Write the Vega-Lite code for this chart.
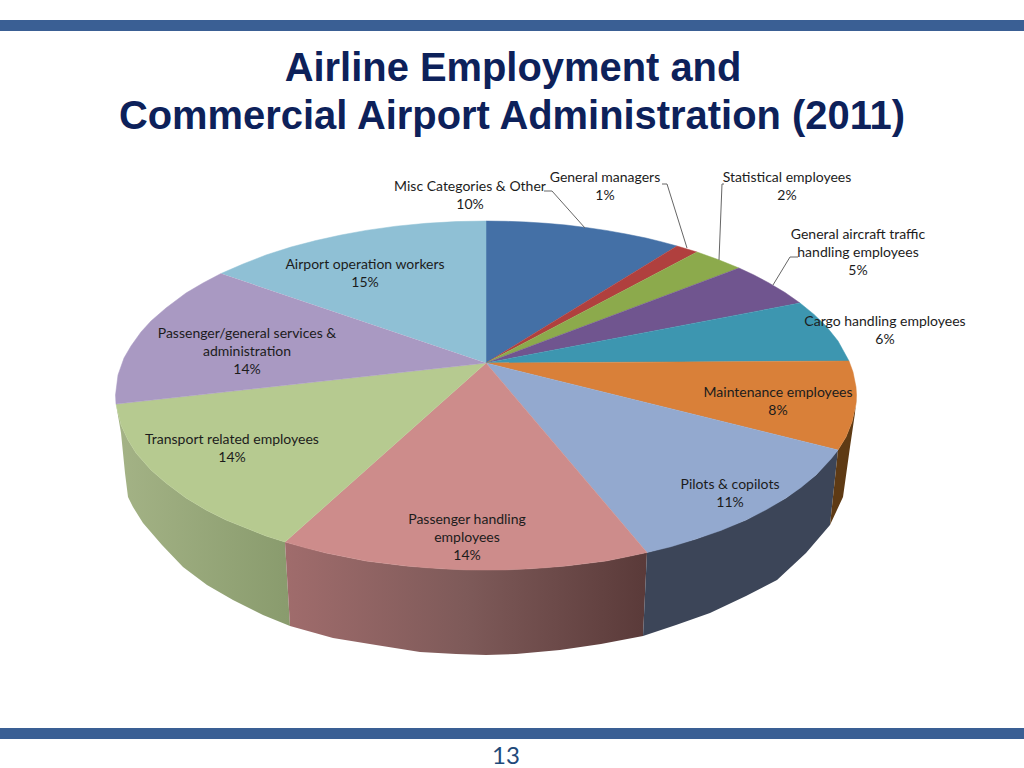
{
"$schema":"https://vega.github.io/schema/vega-lite/v6.json",
"width":1024,"height":768,"padding":0,"autosize":{"type":"none"},"background":"white",
"view":{"stroke":null},
"config":{"axis":{"grid":false}},
"datasets":{
"bands":[{"x":-486,"x2":538,"y":343,"y2":332},{"x":-486,"x2":538,"y":-365,"y2":-376}],
"walls":[
{"s":"Transport","i":1,"x":-370,"y":-41},{"s":"Transport","i":2,"x":-365,"y":-62},{"s":"Transport","i":3,"x":-358,"y":-77},{"s":"Transport","i":4,"x":-350,"y":-90},{"s":"Transport","i":5,"x":-335,"y":-107},{"s":"Transport","i":6,"x":-320,"y":-120},{"s":"Transport","i":7,"x":-300,"y":-135},{"s":"Transport","i":8,"x":-280,"y":-147},{"s":"Transport","i":9,"x":-260,"y":-157},{"s":"Transport","i":10,"x":-240,"y":-165},{"s":"Transport","i":11,"x":-220,"y":-173},{"s":"Transport","i":12,"x":-201,"y":-179},{"s":"Transport","i":13,"x":-196,"y":-263},{"s":"Transport","i":14,"x":-223,"y":-252},{"s":"Transport","i":15,"x":-253,"y":-237},{"s":"Transport","i":16,"x":-279,"y":-222},{"s":"Transport","i":17,"x":-303,"y":-204},{"s":"Transport","i":18,"x":-324,"y":-182},{"s":"Transport","i":19,"x":-343,"y":-160},{"s":"Transport","i":20,"x":-353,"y":-144},{"s":"Transport","i":21,"x":-358,"y":-134},{"s":"Transport","i":22,"x":-361,"y":-110},{"s":"Transport","i":23,"x":-365,"y":-70},
{"s":"Handling","i":1,"x":-201,"y":-179},{"s":"Handling","i":2,"x":-160,"y":-190},{"s":"Handling","i":3,"x":-120,"y":-198},{"s":"Handling","i":4,"x":-80,"y":-203},{"s":"Handling","i":5,"x":-40,"y":-206},{"s":"Handling","i":6,"x":0,"y":-207},{"s":"Handling","i":7,"x":40,"y":-206},{"s":"Handling","i":8,"x":80,"y":-203},{"s":"Handling","i":9,"x":120,"y":-198},{"s":"Handling","i":10,"x":161,"y":-189.5},{"s":"Handling","i":11,"x":157,"y":-273},{"s":"Handling","i":12,"x":115,"y":-281},{"s":"Handling","i":13,"x":74,"y":-287},{"s":"Handling","i":14,"x":30,"y":-291},{"s":"Handling","i":15,"x":0,"y":-292},{"s":"Handling","i":16,"x":-30,"y":-291},{"s":"Handling","i":17,"x":-66,"y":-289},{"s":"Handling","i":18,"x":-110,"y":-282},{"s":"Handling","i":19,"x":-153,"y":-275},{"s":"Handling","i":20,"x":-196,"y":-263},
{"s":"Pilots","i":1,"x":161,"y":-189.5},{"s":"Pilots","i":2,"x":210,"y":-176},{"s":"Pilots","i":3,"x":260,"y":-157},{"s":"Pilots","i":4,"x":300,"y":-135},{"s":"Pilots","i":5,"x":330,"y":-112},{"s":"Pilots","i":6,"x":352,"y":-87},{"s":"Pilots","i":7,"x":344,"y":-162},{"s":"Pilots","i":8,"x":320,"y":-190},{"s":"Pilots","i":9,"x":291,"y":-217},{"s":"Pilots","i":10,"x":260,"y":-233},{"s":"Pilots","i":11,"x":224,"y":-250},{"s":"Pilots","i":12,"x":190,"y":-262},{"s":"Pilots","i":13,"x":157,"y":-273},
{"s":"Maintenance","i":1,"x":352,"y":-87},{"s":"Maintenance","i":2,"x":360,"y":-74},{"s":"Maintenance","i":3,"x":366,"y":-59},{"s":"Maintenance","i":4,"x":370,"y":-41},{"s":"Maintenance","i":5,"x":370.5,"y":-32},{"s":"Maintenance","i":6,"x":369,"y":-50},{"s":"Maintenance","i":7,"x":364,"y":-84},{"s":"Maintenance","i":8,"x":357,"y":-134},{"s":"Maintenance","i":9,"x":344,"y":-162}
],
"tops":[
{"s":"General managers","i":0,"x":0,"y":0},{"s":"General managers","i":1,"x":0,"y":142},{"s":"General managers","i":2,"x":20,"y":141.7},{"s":"General managers","i":3,"x":40,"y":141},{"s":"General managers","i":4,"x":60,"y":139.7},{"s":"General managers","i":5,"x":80,"y":138},{"s":"General managers","i":6,"x":100,"y":135.5},{"s":"General managers","i":7,"x":120,"y":132.6},{"s":"General managers","i":8,"x":140,"y":129},{"s":"General managers","i":9,"x":160,"y":125},{"s":"General managers","i":10,"x":175,"y":121.3},{"s":"General managers","i":11,"x":191,"y":117},
{"s":"Misc","i":0,"x":0,"y":0},{"s":"Misc","i":1,"x":0,"y":142},{"s":"Misc","i":2,"x":-30,"y":141.4},{"s":"Misc","i":3,"x":-60,"y":139.7},{"s":"Misc","i":4,"x":-90,"y":136.8},{"s":"Misc","i":5,"x":-120,"y":132.6},{"s":"Misc","i":6,"x":-145,"y":128},{"s":"Misc","i":7,"x":-170,"y":122.5},{"s":"Misc","i":8,"x":-195,"y":116},{"s":"Misc","i":9,"x":-220,"y":108},{"s":"Misc","i":10,"x":-243,"y":99},{"s":"Misc","i":11,"x":-265,"y":89.5},
{"s":"Red","i":0,"x":0,"y":0},{"s":"Red","i":1,"x":191,"y":117},{"s":"Red","i":2,"x":211,"y":111},
{"s":"Statistical","i":0,"x":0,"y":0},{"s":"Statistical","i":1,"x":211,"y":111},{"s":"Statistical","i":2,"x":232,"y":103.5},{"s":"Statistical","i":3,"x":253,"y":95},
{"s":"Aircraft","i":0,"x":0,"y":0},{"s":"Aircraft","i":1,"x":253,"y":95},{"s":"Aircraft","i":2,"x":268,"y":88},{"s":"Aircraft","i":3,"x":283,"y":80},{"s":"Aircraft","i":4,"x":299,"y":70.5},{"s":"Aircraft","i":5,"x":314,"y":60},
{"s":"Cargo","i":0,"x":0,"y":0},{"s":"Cargo","i":1,"x":314,"y":60},{"s":"Cargo","i":2,"x":328,"y":48.6},{"s":"Cargo","i":3,"x":340,"y":37},{"s":"Cargo","i":4,"x":352,"y":22},{"s":"Cargo","i":5,"x":363,"y":2},
{"s":"Maintenance","i":0,"x":0,"y":0},{"s":"Maintenance","i":1,"x":363,"y":2},{"s":"Maintenance","i":2,"x":367,"y":-9},{"s":"Maintenance","i":3,"x":370,"y":-24},{"s":"Maintenance","i":4,"x":370.5,"y":-32},{"s":"Maintenance","i":5,"x":370,"y":-41},{"s":"Maintenance","i":6,"x":366,"y":-59},{"s":"Maintenance","i":7,"x":360,"y":-74},{"s":"Maintenance","i":8,"x":352,"y":-87},
{"s":"Pilots","i":0,"x":0,"y":0},{"s":"Pilots","i":1,"x":352,"y":-87},{"s":"Pilots","i":2,"x":345,"y":-96},{"s":"Pilots","i":3,"x":330,"y":-112},{"s":"Pilots","i":4,"x":315,"y":-124.4},{"s":"Pilots","i":5,"x":300,"y":-135},{"s":"Pilots","i":6,"x":280,"y":-146.8},{"s":"Pilots","i":7,"x":260,"y":-157},{"s":"Pilots","i":8,"x":235,"y":-167.4},{"s":"Pilots","i":9,"x":210,"y":-176},{"s":"Pilots","i":10,"x":185,"y":-183.7},{"s":"Pilots","i":11,"x":161,"y":-189.5},
{"s":"Handling","i":0,"x":0,"y":0},{"s":"Handling","i":1,"x":161,"y":-189.5},{"s":"Handling","i":2,"x":140,"y":-194},{"s":"Handling","i":3,"x":120,"y":-198},{"s":"Handling","i":4,"x":100,"y":-200.5},{"s":"Handling","i":5,"x":80,"y":-203},{"s":"Handling","i":6,"x":60,"y":-204.7},{"s":"Handling","i":7,"x":40,"y":-206},{"s":"Handling","i":8,"x":20,"y":-206.9},{"s":"Handling","i":9,"x":0,"y":-207},{"s":"Handling","i":10,"x":-20,"y":-206.9},{"s":"Handling","i":11,"x":-40,"y":-206},{"s":"Handling","i":12,"x":-60,"y":-204.7},{"s":"Handling","i":13,"x":-80,"y":-203},{"s":"Handling","i":14,"x":-100,"y":-200.5},{"s":"Handling","i":15,"x":-120,"y":-198},{"s":"Handling","i":16,"x":-140,"y":-194},{"s":"Handling","i":17,"x":-160,"y":-190},{"s":"Handling","i":18,"x":-180,"y":-185},{"s":"Handling","i":19,"x":-201,"y":-179},
{"s":"Transport","i":0,"x":0,"y":0},{"s":"Transport","i":1,"x":-201,"y":-179},{"s":"Transport","i":2,"x":-220,"y":-173},{"s":"Transport","i":3,"x":-240,"y":-165},{"s":"Transport","i":4,"x":-260,"y":-157},{"s":"Transport","i":5,"x":-280,"y":-147},{"s":"Transport","i":6,"x":-300,"y":-135},{"s":"Transport","i":7,"x":-320,"y":-120},{"s":"Transport","i":8,"x":-335,"y":-107},{"s":"Transport","i":9,"x":-350,"y":-90},{"s":"Transport","i":10,"x":-358,"y":-77},{"s":"Transport","i":11,"x":-365,"y":-62},{"s":"Transport","i":12,"x":-370,"y":-41},
{"s":"Passenger","i":0,"x":0,"y":0},{"s":"Passenger","i":1,"x":-370,"y":-41},{"s":"Passenger","i":2,"x":-370.5,"y":-32},{"s":"Passenger","i":3,"x":-368,"y":-12},{"s":"Passenger","i":4,"x":-362,"y":5},{"s":"Passenger","i":5,"x":-355,"y":17},{"s":"Passenger","i":6,"x":-345,"y":31},{"s":"Passenger","i":7,"x":-335,"y":42},{"s":"Passenger","i":8,"x":-320,"y":55},{"s":"Passenger","i":9,"x":-300,"y":70},{"s":"Passenger","i":10,"x":-283,"y":80},{"s":"Passenger","i":11,"x":-265,"y":89.5}
],
"leaders":[
{"s":"a","i":1,"x":58,"y":172},{"s":"a","i":2,"x":66,"y":172},{"s":"a","i":3,"x":99,"y":135},
{"s":"b","i":1,"x":176,"y":179},{"s":"b","i":2,"x":181,"y":179},{"s":"b","i":3,"x":201,"y":115},
{"s":"c","i":1,"x":238,"y":179},{"s":"c","i":2,"x":236,"y":179},{"s":"c","i":3,"x":233,"y":103},
{"s":"d","i":1,"x":312,"y":106},{"s":"d","i":2,"x":304,"y":106},{"s":"d","i":3,"x":287,"y":78}
],
"labels":[
{"t":"General managers\n1%","x":119,"y":185},
{"t":"Statistical employees\n2%","x":301,"y":185},
{"t":"Misc Categories & Other\n10%","x":-16,"y":176},
{"t":"General aircraft traffic\nhandling employees\n5%","x":372,"y":128},
{"t":"Airport operation workers\n15%","x":-121,"y":98},
{"t":"Cargo handling employees\n6%","x":399,"y":41},
{"t":"Passenger/general services &\nadministration\n14%","x":-239,"y":29},
{"t":"Maintenance employees\n8%","x":292,"y":-30},
{"t":"Transport related employees\n14%","x":-254,"y":-77},
{"t":"Pilots & copilots\n11%","x":244,"y":-122},
{"t":"Passenger handling\nemployees\n14%","x":-19,"y":-157}
],
"titles":[
{"t":"Airline Employment and","x":27,"y":282},
{"t":"Commercial Airport Administration (2011)","x":26,"y":234}
],
"page":[{"t":"13","x":20,"y":-393.5}]
},
"layer":[
{"data":{"name":"bands"},"mark":{"type":"rect","fill":"#3a5f94"},
 "encoding":{"x":{"field":"x","type":"quantitative","scale":{"domain":[-486,538],"nice":false,"zero":false},"axis":null},"x2":{"field":"x2"},"y":{"field":"y","type":"quantitative","scale":{"domain":[-405,363],"nice":false,"zero":false},"axis":null},"y2":{"field":"y2"}}},
{"data":{"name":"walls"},"transform":[{"filter":{"field":"s","equal":"Transport"}}],
 "mark":{"type":"line","filled":true,"fill":{"gradient":"linear","x1":0,"y1":0,"x2":1,"y2":0,"stops":[{"offset":0,"color":"#a4b386"},{"offset":1,"color":"#899b6d"}]},"stroke":null},
 "encoding":{"x":{"field":"x","type":"quantitative","axis":null},"y":{"field":"y","type":"quantitative","axis":null},"order":{"field":"i"}}},
{"data":{"name":"walls"},"transform":[{"filter":{"field":"s","equal":"Handling"}}],
 "mark":{"type":"line","filled":true,"fill":{"gradient":"linear","x1":0,"y1":0,"x2":1,"y2":0,"stops":[{"offset":0,"color":"#a06c6c"},{"offset":0.5,"color":"#7e5a59"},{"offset":1,"color":"#5a3a39"}]},"stroke":null},
 "encoding":{"x":{"field":"x","type":"quantitative","axis":null},"y":{"field":"y","type":"quantitative","axis":null},"order":{"field":"i"}}},
{"data":{"name":"walls"},"transform":[{"filter":{"field":"s","equal":"Pilots"}}],
 "mark":{"type":"line","filled":true,"fill":"#3c4558","stroke":null},
 "encoding":{"x":{"field":"x","type":"quantitative","axis":null},"y":{"field":"y","type":"quantitative","axis":null},"order":{"field":"i"}}},
{"data":{"name":"walls"},"transform":[{"filter":{"field":"s","equal":"Maintenance"}}],
 "mark":{"type":"line","filled":true,"fill":"#5e3a14","stroke":null},
 "encoding":{"x":{"field":"x","type":"quantitative","axis":null},"y":{"field":"y","type":"quantitative","axis":null},"order":{"field":"i"}}},
{"data":{"name":"tops"},
 "mark":{"type":"line","filled":true,"strokeWidth":0.5},
 "encoding":{"x":{"field":"x","type":"quantitative","axis":null},"y":{"field":"y","type":"quantitative","axis":null},"order":{"field":"i"},
  "fill":{"field":"s","type":"nominal","legend":null,"scale":{"domain":["General managers","Red","Statistical","Aircraft","Cargo","Maintenance","Pilots","Handling","Transport","Passenger","Misc"],"range":["#4470a6","#b0403e","#8caa4c","#70558f","#3d96b0","#d98039","#93a9cf","#cd8c8b","#b6ca90","#a999c2","#8fc0d5"]}},
  "stroke":{"field":"s","type":"nominal","legend":null,"scale":{"domain":["General managers","Red","Statistical","Aircraft","Cargo","Maintenance","Pilots","Handling","Transport","Passenger","Misc"],"range":["#4470a6","#b0403e","#8caa4c","#70558f","#3d96b0","#d98039","#93a9cf","#cd8c8b","#b6ca90","#a999c2","#8fc0d5"]}}}},
{"data":{"name":"leaders"},"mark":{"type":"line","stroke":"#666666","strokeWidth":1},
 "encoding":{"x":{"field":"x","type":"quantitative","axis":null},"y":{"field":"y","type":"quantitative","axis":null},"order":{"field":"i"},"detail":{"field":"s"}}},
{"data":{"name":"labels"},"mark":{"type":"text","font":"Lato","fontSize":14,"lineHeight":18,"lineBreak":"\n","align":"center","baseline":"middle","fill":"#1c1c1c"},
 "encoding":{"x":{"field":"x","type":"quantitative","axis":null},"y":{"field":"y","type":"quantitative","axis":null},"text":{"field":"t"}}},
{"data":{"name":"titles"},"mark":{"type":"text","font":"Liberation Sans","fontWeight":"bold","fontSize":39.9,"align":"center","baseline":"alphabetic","fill":"#0d215a"},
 "encoding":{"x":{"field":"x","type":"quantitative","axis":null},"y":{"field":"y","type":"quantitative","axis":null},"text":{"field":"t"}}},
{"data":{"name":"page"},"mark":{"type":"text","font":"Lato","fontSize":24,"align":"center","baseline":"middle","fill":"#1f4a7a"},
 "encoding":{"x":{"field":"x","type":"quantitative","axis":null},"y":{"field":"y","type":"quantitative","axis":null},"text":{"field":"t"}}}
]
}
